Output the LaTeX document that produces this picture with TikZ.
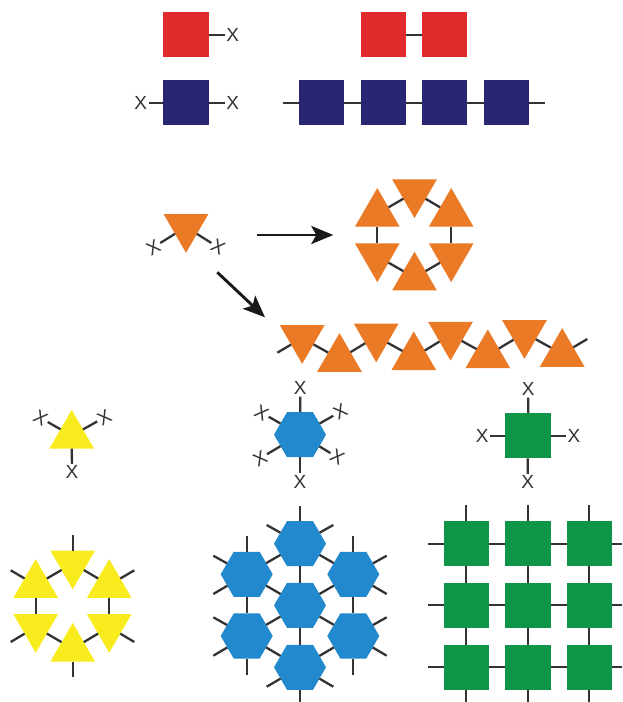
\documentclass[tikz,border=0pt]{standalone}
\usepackage{fontspec}
\setmainfont{Liberation Sans}
\usetikzlibrary{shapes.geometric,arrows.meta}
\definecolor{cred}{HTML}{E02A2B}
\definecolor{cnavy}{HTML}{2A2772}
\definecolor{corange}{HTML}{EA7A25}
\definecolor{cyel}{HTML}{F8EC1E}
\definecolor{chex}{HTML}{2389CE}
\definecolor{cgreen}{HTML}{0E9548}
\definecolor{cline}{HTML}{333333}
\tikzset{
  sq/.style={rectangle,minimum size=45.5pt,inner sep=0pt,outer sep=0pt},
  triu/.style={regular polygon,regular polygon sides=3,minimum size=51.6pt,inner sep=0pt,outer sep=0pt},
  trid/.style={triu,shape border rotate=180},
  hexa/.style={regular polygon,regular polygon sides=6,minimum size=52pt,inner sep=0pt,outer sep=0pt,fill=chex},
  xm/.style={inner sep=1.8pt,outer sep=0pt,text=cline,font=\fontsize{19}{19}\selectfont},
  bond/.style={draw=cline,line width=2.3pt},
  bigarrow/.style={draw=black!90,line width=2.9pt,-{Stealth[length=22pt,width=18pt,inset=5pt]}},
}
\begin{document}
\begin{tikzpicture}[x=1pt,y=-1pt]
\useasboundingbox (0,0) rectangle (622,702);
% red
\node[sq,fill=cred] (ra) at (186,34.7) {};
\node[xm] (rax) at (232.7,34.7) {X};
\draw[bond] (ra) -- (rax);
\node[sq,fill=cred] (rb) at (383.3,34.7) {};
\node[sq,fill=cred] (rc) at (444.7,34.7) {};
\draw[bond] (rb) -- (rc);
% navy
\node[sq,fill=cnavy] (na) at (186,102.7) {};
\node[xm] (nal) at (140.7,102.7) {X};
\node[xm] (nar) at (232.7,102.7) {X};
\draw[bond] (na) -- (nal);
\draw[bond] (na) -- (nar);
\node[sq,fill=cnavy] (nb) at (321.3,102.7) {};
\node[sq,fill=cnavy] (nc) at (383.3,102.7) {};
\node[sq,fill=cnavy] (nd) at (444.7,102.7) {};
\node[sq,fill=cnavy] (ne) at (506.3,102.7) {};
\coordinate (nl) at (282.7,102.7);
\coordinate (nr) at (545,102.7);
\draw[bond] (nl) -- (nb);
\draw[bond] (nb) -- (nc);
\draw[bond] (nc) -- (nd);
\draw[bond] (nd) -- (ne);
\draw[bond] (ne) -- (nr);
% orange monomer
\node[trid,fill=corange] (om) at (186,227) {};
\node[xm,rotate=30] (oml) at (153.3,247.3) {X};
\node[xm,rotate=-30] (omr) at (218.2,247.3) {X};
\draw[bond] (om) -- (oml);
\draw[bond] (om) -- (omr);
% arrows
\coordinate (a1s) at (257.3,235);
\coordinate (a1e) at (333.3,235);
\coordinate (a2s) at (217.3,272.3);
\coordinate (a2e) at (265,317.3);
\draw[bigarrow] (a1s) -- (a1e);
\draw[bigarrow] (a2s) -- (a2e);
% orange ring
\node[trid,fill=corange] (o1) at (414.5,192.3) {};
\node[triu,fill=corange] (o2) at (451.2,213.8) {};
\node[trid,fill=corange] (o3) at (451.2,256.3) {};
\node[triu,fill=corange] (o4) at (414.5,277.5) {};
\node[trid,fill=corange] (o5) at (377.3,256.3) {};
\node[triu,fill=corange] (o6) at (377.3,213.8) {};
\draw[bond] (o1) -- (o2);
\draw[bond] (o2) -- (o3);
\draw[bond] (o3) -- (o4);
\draw[bond] (o4) -- (o5);
\draw[bond] (o5) -- (o6);
\draw[bond] (o6) -- (o1);
% orange chain
\node[trid,fill=corange] (c1) at (302.2,338.1) {};
\node[triu,fill=corange] (c2) at (339.5,358.9) {};
\node[trid,fill=corange] (c3) at (376.2,336.5) {};
\node[triu,fill=corange] (c4) at (413.8,357.2) {};
\node[trid,fill=corange] (c5) at (450.5,334.8) {};
\node[triu,fill=corange] (c6) at (487.8,355.2) {};
\node[trid,fill=corange] (c7) at (524.5,333.1) {};
\node[triu,fill=corange] (c8) at (562.2,353.9) {};
\coordinate (cl) at (277.3,352.7);
\coordinate (cr) at (587.3,339);
\draw[bond] (cl) -- (c1);
\draw[bond] (c1) -- (c2);
\draw[bond] (c2) -- (c3);
\draw[bond] (c3) -- (c4);
\draw[bond] (c4) -- (c5);
\draw[bond] (c5) -- (c6);
\draw[bond] (c6) -- (c7);
\draw[bond] (c7) -- (c8);
\draw[bond] (c8) -- (cr);
% yellow monomer
\node[triu,fill=cyel] (ym) at (71.7,435.7) {};
\node[xm] (ymb) at (72,472.3) {X};
\node[xm,rotate=-30] (yml) at (40.7,418) {X};
\node[xm,rotate=30] (ymr) at (104.3,417.5) {X};
\draw[bond] (ym) -- (ymb);
\draw[bond] (ym) -- (yml);
\draw[bond] (ym) -- (ymr);
% yellow ring
\node[trid,fill=cyel] (y1) at (72.7,563.5) {};
\node[triu,fill=cyel] (y2) at (109.2,585) {};
\node[trid,fill=cyel] (y3) at (109.2,627) {};
\node[triu,fill=cyel] (y4) at (72.7,648.7) {};
\node[trid,fill=cyel] (y5) at (35.7,627) {};
\node[triu,fill=cyel] (y6) at (35.7,585) {};
\draw[bond] (y1) -- (y2);
\draw[bond] (y2) -- (y3);
\draw[bond] (y3) -- (y4);
\draw[bond] (y4) -- (y5);
\draw[bond] (y5) -- (y6);
\draw[bond] (y6) -- (y1);
\coordinate (yf1) at (72.7,535);
\coordinate (yf2) at (134.3,570.3);
\coordinate (yf3) at (134.3,642);
\coordinate (yf4) at (72.7,677.3);
\coordinate (yf5) at (10.7,642);
\coordinate (yf6) at (10.7,570.3);
\draw[bond] (y1) -- (yf1);
\draw[bond] (y2) -- (yf2);
\draw[bond] (y3) -- (yf3);
\draw[bond] (y4) -- (yf4);
\draw[bond] (y5) -- (yf5);
\draw[bond] (y6) -- (yf6);
% blue monomer
\node[hexa] (hm) at (300,434.7) {};
\node[xm] (hx1) at (300.3,388.3) {X};
\node[xm,rotate=30] (hx2) at (340.3,411.7) {X};
\node[xm,rotate=-30] (hx3) at (337.5,457.3) {X};
\node[xm] (hx4) at (300,481.7) {X};
\node[xm,rotate=30] (hx5) at (260,458.3) {X};
\node[xm,rotate=-30] (hx6) at (261.7,412.7) {X};
\draw[bond] (hm) -- (hx1);
\draw[bond] (hm) -- (hx2);
\draw[bond] (hm) -- (hx3);
\draw[bond] (hm) -- (hx4);
\draw[bond] (hm) -- (hx5);
\draw[bond] (hm) -- (hx6);
% blue lattice
\node[hexa] (hc) at (300,605.3) {};
\node[hexa] (ht) at (300,543.7) {};
\node[hexa] (hb) at (300,667.3) {};
\node[hexa] (hul) at (246.7,574.3) {};
\node[hexa] (hll) at (246.7,636) {};
\node[hexa] (hur) at (353.3,574.3) {};
\node[hexa] (hlr) at (353.3,636) {};
\draw[bond] (ht) -- (hc);
\draw[bond] (hc) -- (hb);
\draw[bond] (ht) -- (hul);
\draw[bond] (ht) -- (hur);
\draw[bond] (hul) -- (hc);
\draw[bond] (hur) -- (hc);
\draw[bond] (hll) -- (hc);
\draw[bond] (hlr) -- (hc);
\draw[bond] (hll) -- (hb);
\draw[bond] (hlr) -- (hb);
\draw[bond] (hul) -- (hll);
\draw[bond] (hur) -- (hlr);
\coordinate (f1) at (300,505.7);
\coordinate (f2) at (266.7,525);
\coordinate (f3) at (333.3,525);
\coordinate (f4) at (246.7,536);
\coordinate (f5) at (213.3,555.7);
\coordinate (f6) at (213.3,594);
\coordinate (f7) at (353.3,536);
\coordinate (f8) at (386.7,555.7);
\coordinate (f9) at (386.7,594);
\coordinate (f10) at (213.3,617.3);
\coordinate (f11) at (213.3,655.7);
\coordinate (f12) at (246.7,675);
\coordinate (f13) at (386.7,617.3);
\coordinate (f14) at (386.7,655.7);
\coordinate (f15) at (353.3,675);
\coordinate (f16) at (266.7,686.7);
\coordinate (f17) at (333.3,686.7);
\coordinate (f18) at (300,702);
\draw[bond] (ht) -- (f1);
\draw[bond] (ht) -- (f2);
\draw[bond] (ht) -- (f3);
\draw[bond] (hul) -- (f4);
\draw[bond] (hul) -- (f5);
\draw[bond] (hul) -- (f6);
\draw[bond] (hur) -- (f7);
\draw[bond] (hur) -- (f8);
\draw[bond] (hur) -- (f9);
\draw[bond] (hll) -- (f10);
\draw[bond] (hll) -- (f11);
\draw[bond] (hll) -- (f12);
\draw[bond] (hlr) -- (f13);
\draw[bond] (hlr) -- (f14);
\draw[bond] (hlr) -- (f15);
\draw[bond] (hb) -- (f16);
\draw[bond] (hb) -- (f17);
\draw[bond] (hb) -- (f18);
% green monomer
\node[sq,fill=cgreen] (gm) at (528,435.7) {};
\node[xm] (gx1) at (528.3,389.3) {X};
\node[xm] (gx2) at (574,435.7) {X};
\node[xm] (gx3) at (527.7,482.3) {X};
\node[xm] (gx4) at (482.3,435.7) {X};
\draw[bond] (gm) -- (gx1);
\draw[bond] (gm) -- (gx2);
\draw[bond] (gm) -- (gx3);
\draw[bond] (gm) -- (gx4);
% green grid
\foreach \c/\x in {a/466.3,b/528,c/589.3}{
  \foreach \r/\y in {a/543.7,b/605.3,c/667.3}{
    \node[sq,fill=cgreen] (cell\c\r) at (\x,\y) {};
  }
  \coordinate (top\c) at (\x,505);
  \coordinate (bot\c) at (\x,702);
  \draw[bond] (top\c) -- (cell\c a);
  \draw[bond] (cell\c a) -- (cell\c b);
  \draw[bond] (cell\c b) -- (cell\c c);
  \draw[bond] (cell\c c) -- (bot\c);
}
\foreach \r/\y in {a/543.7,b/605.3,c/667.3}{
  \coordinate (lft\r) at (427.7,\y);
  \coordinate (rgt\r) at (622,\y);
  \draw[bond] (lft\r) -- (cella\r);
  \draw[bond] (cella\r) -- (cellb\r);
  \draw[bond] (cellb\r) -- (cellc\r);
  \draw[bond] (cellc\r) -- (rgt\r);
}
\end{tikzpicture}
\end{document}
